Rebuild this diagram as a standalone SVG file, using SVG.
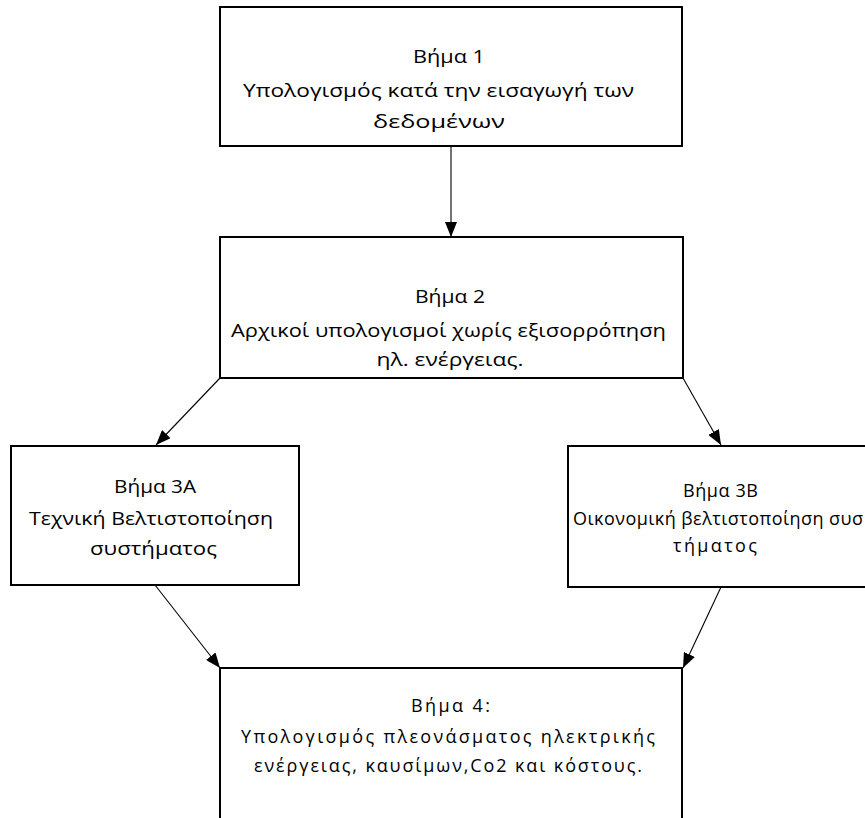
<svg xmlns="http://www.w3.org/2000/svg" width="865" height="818" viewBox="0 0 865 818">
  <style>
    .box { fill: #ffffff; stroke: #000000; stroke-width: 2; }
    .lbl { font-family: "Open Sans", "Noto Sans", "DejaVu Sans", sans-serif; font-size: 19px; fill: #000000; text-anchor: middle; }
    .wide { font-family: "Open Sans", "Noto Sans", "DejaVu Sans", sans-serif; font-size: 18px; fill: #000000; }
    .edge { fill: none; stroke: #000000; stroke-width: 1.1; marker-end: url(#arrow); }
  </style>
  <defs>
    <marker id="arrow" markerUnits="userSpaceOnUse" markerWidth="16" markerHeight="12" refX="15" refY="6" orient="auto">
      <path d="M0,0 L15,6 L0,12 Z" fill="#000000"/>
    </marker>
  </defs>
  <rect width="865" height="818" fill="#ffffff"/>

  <g id="connectors">
    <line class="edge" x1="451" y1="147" x2="451" y2="237"/>
    <line class="edge" x1="220" y1="378" x2="156" y2="445"/>
    <line class="edge" x1="683" y1="378" x2="721" y2="445"/>
    <line class="edge" x1="155" y1="585" x2="220" y2="668"/>
    <line class="edge" x1="721" y1="587" x2="683" y2="668"/>
  </g>

  <g id="step1">
    <rect class="box" x="220" y="7" width="462" height="139"/>
    <text class="lbl" x="449" y="63" textLength="72" lengthAdjust="spacingAndGlyphs">Βήμα 1</text>
    <text class="lbl" x="438.5" y="97" textLength="391" lengthAdjust="spacingAndGlyphs">Υπολογισμός κατά την εισαγωγή των</text>
    <text class="lbl" x="439" y="128" textLength="132" lengthAdjust="spacingAndGlyphs">δεδομένων</text>
  </g>

  <g id="step2">
    <rect class="box" x="220" y="237" width="463" height="141"/>
    <text class="lbl" x="450" y="303" textLength="70" lengthAdjust="spacingAndGlyphs">Βήμα 2</text>
    <text class="lbl" x="448.5" y="337" textLength="435" lengthAdjust="spacingAndGlyphs">Αρχικοί υπολογισμοί χωρίς εξισορρόπηση</text>
    <text class="lbl" x="450" y="366" textLength="147" lengthAdjust="spacingAndGlyphs">ηλ. ενέργειας.</text>
  </g>

  <g id="step3a">
    <rect class="box" x="11" y="446" width="288" height="139"/>
    <text class="lbl" x="155" y="493" textLength="82" lengthAdjust="spacingAndGlyphs">Βήμα 3Α</text>
    <text class="lbl" x="151" y="525" textLength="244" lengthAdjust="spacingAndGlyphs">Τεχνική Βελτιστοποίηση</text>
    <text class="lbl" x="153.5" y="555" textLength="127" lengthAdjust="spacingAndGlyphs">συστήματος</text>
  </g>

  <g id="step3b">
    <rect class="box" x="568" y="446" width="300" height="141"/>
    <text class="wide" x="683" y="497" textLength="75" lengthAdjust="spacing">Βήμα 3Β</text>
    <text class="wide" x="573" y="525" textLength="290" lengthAdjust="spacing">Οικονομική βελτιστοποίηση συσ</text>
    <text class="wide" x="673" y="552" textLength="84" lengthAdjust="spacing">τήματος</text>
  </g>

  <g id="step4">
    <rect class="box" x="220" y="668" width="462" height="160"/>
    <text class="wide" x="411" y="712" textLength="79" lengthAdjust="spacing">Βήμα 4:</text>
    <text class="wide" x="241" y="743" textLength="414" lengthAdjust="spacing">Υπολογισμός πλεονάσματος ηλεκτρικής</text>
    <text class="wide" x="254" y="772" textLength="388" lengthAdjust="spacing">ενέργειας, καυσίμων,Co2 και κόστους.</text>
  </g>
</svg>
